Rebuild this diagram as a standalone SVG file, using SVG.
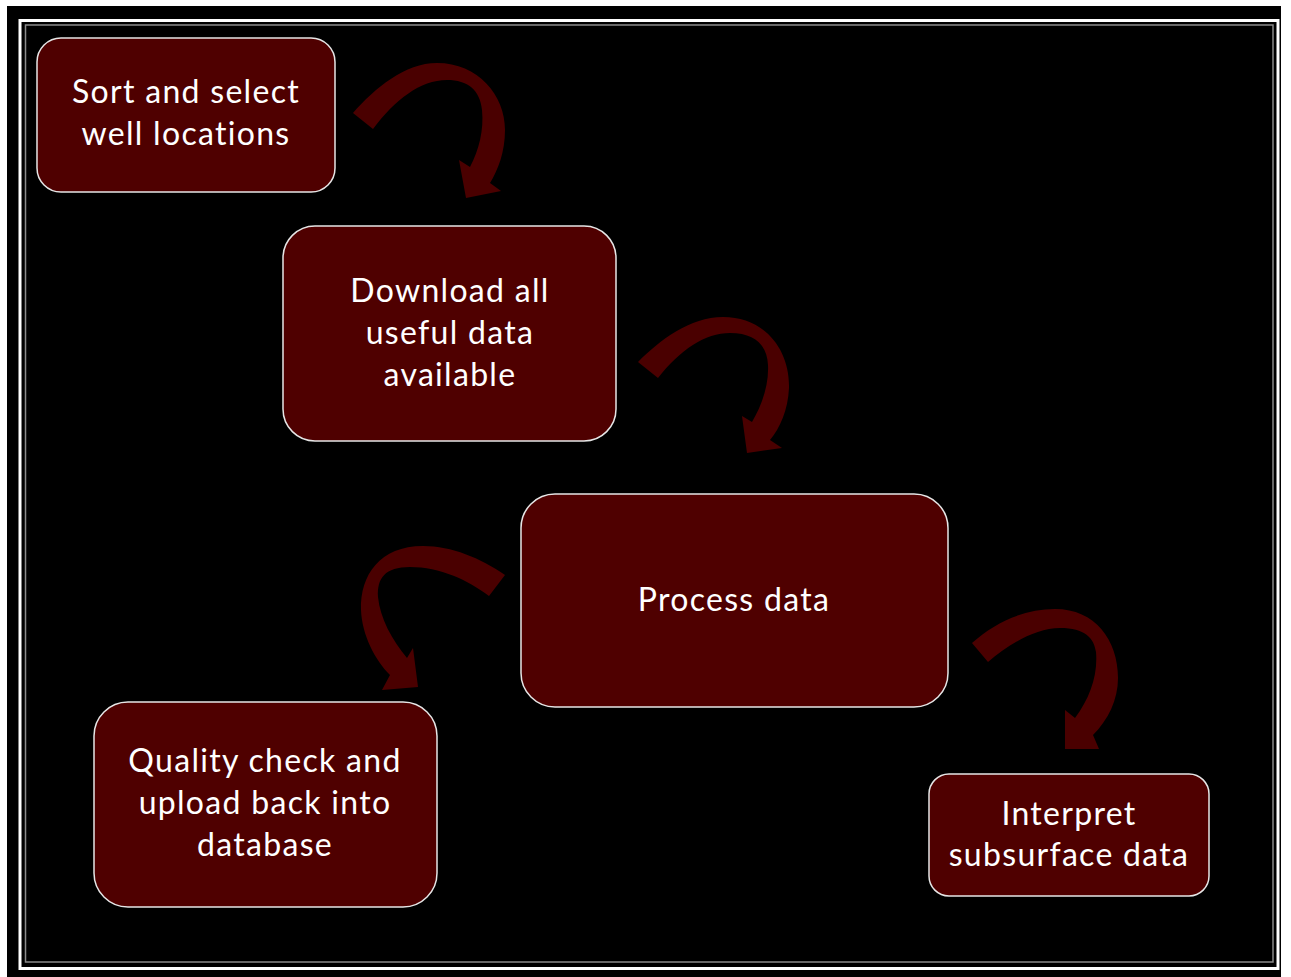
<svg xmlns="http://www.w3.org/2000/svg" width="1291" height="977" viewBox="0 0 1291 977">
  <style>
    .box { fill: #4f0000; stroke: #e6e6e6; stroke-width: 1.5; }
    .lbl { fill: #ffffff; font-family: Lato, "Open Sans", sans-serif; font-size: 32px; letter-spacing: 1.3px; text-anchor: middle; }
    .arrow { fill: #4a0000; }
  </style>

  <!-- page frame -->
  <rect x="0" y="0" width="1291" height="977" fill="#ffffff"/>
  <rect x="7" y="6" width="1274" height="971" fill="#000000"/>
  <rect x="20" y="20.5" width="1258" height="948" fill="none" stroke="#ffffff" stroke-width="3"/>
  <rect x="25.5" y="25" width="1247.5" height="937" fill="none" stroke="#8a8a8a" stroke-width="1.5"/>

  <!-- curved step arrows -->
  <g id="connectors">
    <path class="arrow" d="M353,113 C375,88 405,63 437,63 C478,63 505,95 505,130 C505,152 498,170 490,183 L501,191 L466,198 L459,160 L470,167 C479,150 484,130 482,110 C480,90 468,80 447,80 C420,80 395,100 373,129 Z"/>
    <path class="arrow" d="M638,362 C660,340 690,317 723,317 C765,317 790,350 789,388 C788,410 780,428 770,440 L782,448 L747,453 L742,416 L752,422 C762,405 769,385 768,365 C767,345 755,333 730,333 C705,333 680,350 658,378 Z"/>
    <path class="arrow" d="M972,643 C995,622 1025,609 1055,609 C1095,609 1118,640 1118,678 C1118,700 1108,720 1093,735 L1099,749 L1065,749 L1065,710 L1075,718 C1090,698 1098,675 1096,652 C1094,638 1085,628 1060,628 C1035,628 1008,645 988,662 Z"/>
    <path class="arrow" d="M505,575 C480,558 452,546 423,546 C380,546 360,575 361,610 C362,635 375,660 390,675 L382,690 L418,687 L413,648 L407,658 C392,640 380,618 378,597 C377,578 385,567 410,567 C440,567 468,580 489,596 Z"/>
  </g>

  <g id="sort">
    <rect class="box" x="37" y="38" width="298" height="154" rx="24"/>
    <text class="lbl" x="186" y="103">Sort and select</text>
    <text class="lbl" x="186" y="145">well locations</text>
  </g>

  <g id="download">
    <rect class="box" x="283" y="226" width="333" height="215" rx="32"/>
    <text class="lbl" x="450" y="302">Download all</text>
    <text class="lbl" x="450" y="344">useful data</text>
    <text class="lbl" x="450" y="386">available</text>
  </g>

  <g id="process">
    <rect class="box" x="521" y="494" width="427" height="213" rx="34"/>
    <text class="lbl" x="734" y="611">Process data</text>
  </g>

  <g id="quality">
    <rect class="box" x="94" y="702" width="343" height="205" rx="34"/>
    <text class="lbl" x="265" y="772">Quality check and</text>
    <text class="lbl" x="265" y="814">upload back into</text>
    <text class="lbl" x="265" y="856">database</text>
  </g>

  <g id="interpret">
    <rect class="box" x="929" y="774" width="280" height="122" rx="20"/>
    <text class="lbl" x="1069" y="825">Interpret</text>
    <text class="lbl" x="1069" y="866">subsurface data</text>
  </g>
</svg>
